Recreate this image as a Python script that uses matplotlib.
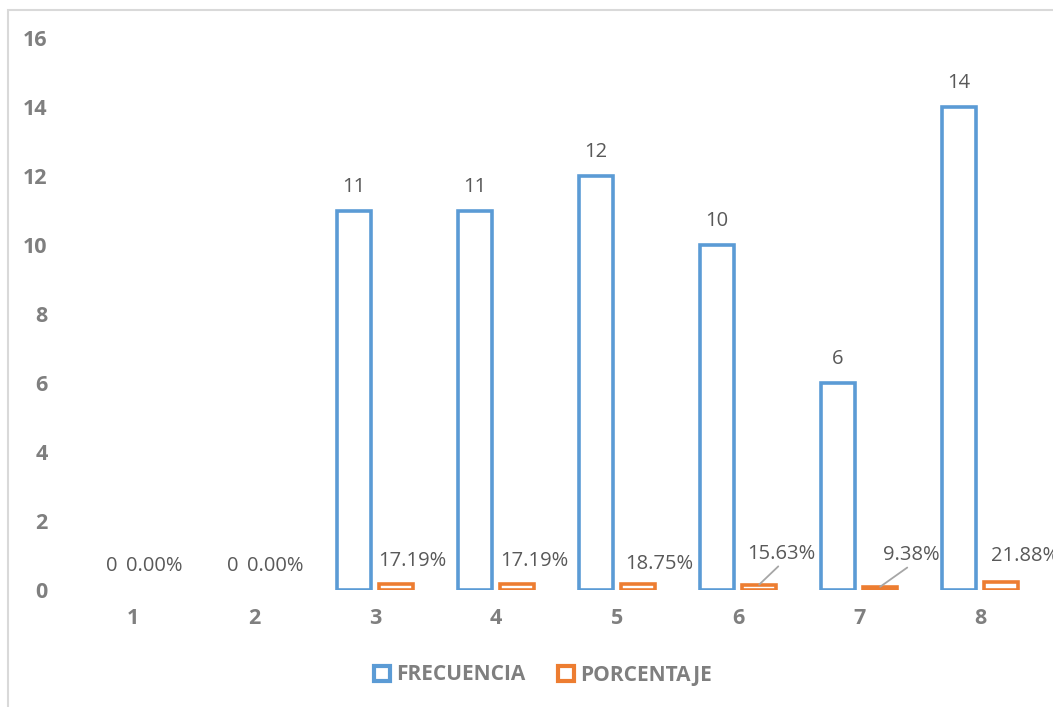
import matplotlib
matplotlib.use('Agg')
import matplotlib.pyplot as plt
import numpy as np
from matplotlib.patches import Patch, Rectangle

plt.rcParams['font.family'] = ['Open Sans', 'DejaVu Sans']

# data
categories = ['1', '2', '3', '4', '5', '6', '7', '8']
frecuencia = [0, 0, 11, 11, 12, 10, 6, 14]
porcentaje = [0.0, 0.0, 0.1719, 0.1719, 0.1875, 0.1563, 0.0938, 0.2188]
pct_labels = ['0.00%', '0.00%', '17.19%', '17.19%', '18.75%', '15.63%', '9.38%', '21.88%']

# manual label positions (pixels from bar top), like excel moved them
pct_dx = [0, 0, 16, 17, 21, 22, 31, 24]
pct_dy = [24, 24, 23, 23, 20, 31, 32, 26]
leader = [False, False, False, False, False, True, True, False]

blue = '#5b9bd5'
orange = '#ed7d31'
tick_col = '#7f7f7f'
lab_col = '#595959'

fig = plt.figure(figsize=(10.53, 7.07), dpi=100)
ax = fig.add_axes([72.5 / 1053, 117 / 707, 968 / 1053, 552 / 707])

x = np.arange(len(categories))
w = 0.28
off = 0.175
# zero bars are not drawn in excel
blue_edges = [blue if v > 0 else 'none' for v in frecuencia]
orange_edges = [orange if v > 0 else 'none' for v in porcentaje]
ax.bar(x - off, frecuencia, w, facecolor='white', edgecolor=blue_edges, linewidth=2.6)
ax.bar(x + off, porcentaje, w, facecolor='white', edgecolor=orange_edges, linewidth=2.6)

for i in range(len(x)):
    ax.annotate(str(frecuencia[i]), (x[i] - off, frecuencia[i]), xytext=(0, 24),
                textcoords='offset pixels', ha='center', va='center',
                fontsize=14.5, color=lab_col)
    ap = None
    if leader[i]:
        ap = dict(arrowstyle='-', color='#a6a6a6', lw=1.3, relpos=(0.5, 0),
                  shrinkA=0, shrinkB=0)
    ax.annotate(pct_labels[i], (x[i] + off, porcentaje[i]), xytext=(pct_dx[i], pct_dy[i]),
                textcoords='offset pixels', ha='center', va='center',
                fontsize=14.5, color=lab_col, arrowprops=ap, annotation_clip=False)

ax.set_xlim(-0.5, len(x) - 0.5)
ax.set_ylim(0, 16)
ax.set_yticks(range(0, 17, 2))
ax.set_xticks(x)
ax.set_xticklabels(categories)
for s in ax.spines.values():
    s.set_visible(False)
ax.tick_params(length=0, labelsize=15.5, labelcolor=tick_col, pad=13)
ax.tick_params(axis='y', pad=18)
for t in ax.get_xticklabels() + ax.get_yticklabels():
    t.set_fontweight('bold')

handles = [Patch(facecolor='white', edgecolor=blue, linewidth=3, label='FRECUENCIA'),
           Patch(facecolor='white', edgecolor=orange, linewidth=3, label='PORCENTAJE')]
leg = fig.legend(handles=handles, loc='center', bbox_to_anchor=(543 / 1053, 32 / 707),
                 ncol=2, frameon=False, handlelength=0.75, handleheight=0.75,
                 handletextpad=0.3, columnspacing=1.6,
                 prop={'weight': 'bold', 'size': 15})
for t in leg.get_texts():
    t.set_color(tick_col)

# chart border (left and top visible)
fig.add_artist(Rectangle((8 / 1053, -0.1), 1.2, 1.1 - 10 / 707, transform=fig.transFigure,
                         fill=False, edgecolor='#d9d9d9', linewidth=1.5))

fig.savefig('out.png', dpi=100)
